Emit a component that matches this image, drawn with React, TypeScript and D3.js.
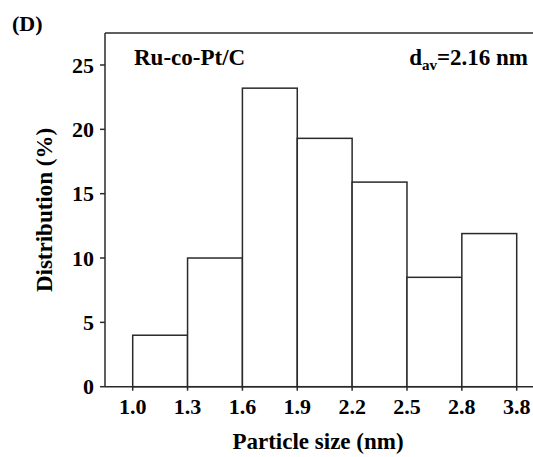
import React from "react";
import * as d3 from "d3";

const binEdges = ["1.0", "1.3", "1.6", "1.9", "2.2", "2.5", "2.8", "3.8"];
const distribution = [4, 10, 23.2, 19.3, 15.9, 8.5, 11.9];
const yTicks = [0, 5, 10, 15, 20, 25];
const panelLabel = "(D)";
const sampleLabel = "Ru-co-Pt/C";

const W = 533;
const H = 457;
const axisLeftX = 105;
const axisBottomY = 386.7;
const frameTopY = 33;
const font = "'Liberation Serif', 'Times New Roman', serif";
const lineColor = "#2a2a2a";

export default function App() {
  const x = d3.scaleLinear().domain([0, binEdges.length - 1]).range([132.7, 516.7]);
  const y = d3.scaleLinear().domain([0, 25]).range([axisBottomY, 65]);

  return (
    <svg
      width={W}
      height={H}
      style={{ position: "absolute", left: 0, top: 0, background: "#fff" }}
      fontFamily={font}
      fontWeight="bold"
    >
      {distribution.map((v, i) => (
        <rect
          key={i}
          x={x(i)}
          y={y(v)}
          width={x(i + 1) - x(i)}
          height={axisBottomY - y(v)}
          fill="#fff"
          stroke={lineColor}
          strokeWidth={1.5}
        />
      ))}
      <line x1={axisLeftX} x2={W} y1={frameTopY} y2={frameTopY} stroke={lineColor} strokeWidth={1.5} />
      <line x1={axisLeftX} x2={W} y1={axisBottomY} y2={axisBottomY} stroke={lineColor} strokeWidth={1.5} />
      <line x1={axisLeftX} x2={axisLeftX} y1={frameTopY} y2={axisBottomY} stroke={lineColor} strokeWidth={1.5} />
      {yTicks.map((t) => (
        <g key={t} transform={`translate(0,${y(t)})`}>
          <line x1={axisLeftX - 5} x2={axisLeftX} stroke={lineColor} strokeWidth={1.5} />
          <text x={axisLeftX - 11} dy="0.35em" textAnchor="end" fontSize={22}>
            {t}
          </text>
        </g>
      ))}
      {binEdges.map((lab, i) => (
        <g key={lab} transform={`translate(${x(i)},0)`}>
          <line y1={axisBottomY} y2={axisBottomY + 4} stroke={lineColor} strokeWidth={1.5} />
          <text y={414} textAnchor="middle" fontSize={22}>
            {lab}
          </text>
        </g>
      ))}
      <text x={318} y={449} textAnchor="middle" fontSize={23}>
        Particle size (nm)
      </text>
      <text transform="translate(52,210) rotate(-90)" textAnchor="middle" fontSize={23}>
        Distribution (%)
      </text>
      <text x={12} y={31} fontSize={22}>
        {panelLabel}
      </text>
      <text x={134} y={65} fontSize={23}>
        {sampleLabel}
      </text>
      <text x={528} y={65} textAnchor="end" fontSize={23}>
        d<tspan fontSize={15} dy={5}>av</tspan>
        <tspan dy={-5}>=2.16 nm</tspan>
      </text>
    </svg>
  );
}
